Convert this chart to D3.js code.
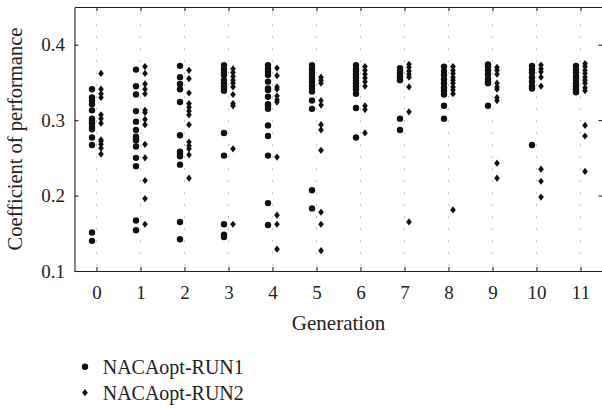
<!DOCTYPE html>
<html>
<head>
<meta charset="utf-8">
<script src="https://cdn.jsdelivr.net/npm/d3@7"></script>
<style>
  body { margin: 0; background: #fff; }
  svg text { font-family: "Liberation Serif", "Times New Roman", "DejaVu Serif", serif; fill: #222; }
</style>
</head>
<body>
<div id="chart"></div>
<script>
const svgWidth = 602;
const svgHeight = 408;

// plot box
const margin = { top: 7, right: -0.5, bottom: 137, left: 74.5 };
const width = svgWidth - margin.left - margin.right;
const height = svgHeight - margin.top - margin.bottom;

// data
const generations = [0, 1, 2, 3, 4, 5, 6, 7, 8, 9, 10, 11];
const yTicks = [0.1, 0.2, 0.3, 0.4];
const seriesNames = ['NACAopt-RUN1', 'NACAopt-RUN2'];

// NACAopt-RUN1, one list per generation
const run1 = [
    [0.341, 0.330, 0.326, 0.321, 0.313, 0.302, 0.299, 0.296, 0.291, 0.288, 0.277, 0.267, 0.151, 0.140],
    [0.367, 0.345, 0.334, 0.312, 0.298, 0.287, 0.278, 0.275, 0.273, 0.265, 0.250, 0.239, 0.167, 0.154],
    [0.372, 0.357, 0.348, 0.341, 0.324, 0.280, 0.258, 0.255, 0.252, 0.241, 0.165, 0.142],
    [0.373, 0.368, 0.364, 0.360, 0.353, 0.349, 0.345, 0.342, 0.339, 0.283, 0.253, 0.162, 0.148, 0.145],
    [0.373, 0.368, 0.364, 0.360, 0.351, 0.342, 0.340, 0.331, 0.321, 0.318, 0.315, 0.293, 0.279, 0.253, 0.190, 0.161],
    [0.373, 0.368, 0.364, 0.360, 0.355, 0.351, 0.346, 0.342, 0.338, 0.326, 0.315, 0.207, 0.183],
    [0.373, 0.368, 0.365, 0.361, 0.357, 0.353, 0.349, 0.345, 0.341, 0.335, 0.316, 0.277],
    [0.369, 0.366, 0.363, 0.360, 0.357, 0.353, 0.302, 0.287],
    [0.371, 0.365, 0.360, 0.354, 0.349, 0.343, 0.339, 0.334, 0.319, 0.302],
    [0.374, 0.371, 0.366, 0.361, 0.355, 0.351, 0.349, 0.319],
    [0.372, 0.367, 0.363, 0.357, 0.351, 0.345, 0.342, 0.267],
    [0.372, 0.367, 0.363, 0.358, 0.354, 0.349, 0.345, 0.341, 0.337]
];

// NACAopt-RUN2, one list per generation
const run2 = [
    [0.362, 0.341, 0.335, 0.330, 0.307, 0.302, 0.296, 0.274, 0.272, 0.268, 0.263, 0.255],
    [0.371, 0.362, 0.348, 0.341, 0.335, 0.313, 0.310, 0.301, 0.294, 0.268, 0.250, 0.220, 0.196, 0.162],
    [0.366, 0.355, 0.336, 0.322, 0.317, 0.312, 0.307, 0.294, 0.271, 0.266, 0.262, 0.254, 0.223],
    [0.368, 0.363, 0.358, 0.353, 0.349, 0.344, 0.334, 0.322, 0.319, 0.262, 0.162],
    [0.369, 0.359, 0.344, 0.341, 0.332, 0.327, 0.324, 0.251, 0.174, 0.162, 0.129],
    [0.357, 0.353, 0.349, 0.326, 0.320, 0.294, 0.287, 0.260, 0.178, 0.162, 0.127],
    [0.371, 0.366, 0.361, 0.356, 0.351, 0.345, 0.319, 0.314, 0.283],
    [0.374, 0.370, 0.365, 0.361, 0.357, 0.344, 0.311, 0.165],
    [0.371, 0.366, 0.362, 0.357, 0.353, 0.349, 0.344, 0.340, 0.335, 0.181],
    [0.370, 0.366, 0.361, 0.349, 0.344, 0.341, 0.330, 0.326, 0.243, 0.223],
    [0.373, 0.368, 0.364, 0.357, 0.345, 0.235, 0.219, 0.198],
    [0.375, 0.371, 0.366, 0.362, 0.357, 0.353, 0.349, 0.343, 0.339, 0.293, 0.279, 0.232]
];

const svg = d3.select('#chart')
    .append('svg')
    .attr('width', svgWidth)
    .attr('height', svgHeight);

const chartGroup = svg.append('g')
    .attr('transform', `translate(${margin.left}, ${margin.top})`);

const xScale = d3.scaleLinear()
    .domain([-0.5, 11.5])
    .range([0, width]);

const yScale = d3.scaleLinear()
    .domain([0.1, 0.45])
    .range([height, 0]);

// dotted vertical guides
chartGroup.selectAll('.guide')
    .data(generations)
    .enter()
    .append('line')
    .attr('class', 'guide')
    .attr('x1', d => xScale(d))
    .attr('x2', d => xScale(d))
    .attr('y1', 5.5)
    .attr('y2', height)
    .attr('stroke', '#8a8a8a')
    .attr('stroke-width', 1)
    .attr('stroke-dasharray', '1,11');

// axes (frame on all four sides, ticks pointing in)
const fontSize = 19;

const xAxis = chartGroup.append('g')
    .attr('transform', `translate(0, ${height})`)
    .call(d3.axisBottom(xScale).tickValues(generations).tickSize(-4).tickSizeOuter(0).tickPadding(15));

chartGroup.append('g')
    .call(d3.axisTop(xScale).tickValues(generations).tickSize(-4).tickSizeOuter(0).tickFormat(''));

const yAxis = chartGroup.append('g')
    .call(d3.axisLeft(yScale).tickValues(yTicks).tickSize(-4).tickSizeOuter(0).tickPadding(9.5)
        .tickFormat(d3.format('.1f')));

chartGroup.append('g')
    .attr('transform', `translate(${width}, 0)`)
    .call(d3.axisRight(yScale).tickValues(yTicks.slice(1)).tickSize(-4).tickSizeOuter(0).tickFormat(''));

chartGroup.selectAll('.domain, .tick line')
    .attr('stroke', '#222')
    .attr('stroke-width', 1.1);

// d3 puts sans-serif on the axis groups, drop it
chartGroup.selectAll('g').attr('font-family', null);
xAxis.selectAll('text').attr('font-size', fontSize);
yAxis.selectAll('text').attr('font-size', fontSize);

// axis titles
chartGroup.append('text')
    .attr('x', width / 2)
    .attr('y', 330 - margin.top)
    .attr('text-anchor', 'middle')
    .attr('font-size', 21)
    .text('Generation');

chartGroup.append('text')
    .attr('transform', 'rotate(-90)')
    .attr('x', 0 - height / 2)
    .attr('y', 22 - margin.left)
    .attr('text-anchor', 'middle')
    .attr('font-size', 20.5)
    .text('Coefficient of performance');

// flatten to points
const points1 = [];
run1.forEach((vals, i) => vals.forEach(v => points1.push({ gen: generations[i], value: v })));
const points2 = [];
run2.forEach((vals, i) => vals.forEach(v => points2.push({ gen: generations[i], value: v })));

const offset = 4.5;
const diamond = 'M0,-3.6L2.8,0L0,3.6L-2.8,0Z';

chartGroup.selectAll('.run1')
    .data(points1)
    .enter()
    .append('circle')
    .attr('class', 'run1')
    .attr('cx', d => xScale(d.gen) - offset)
    .attr('cy', d => yScale(d.value))
    .attr('r', 3.2)
    .attr('fill', '#111');

chartGroup.selectAll('.run2')
    .data(points2)
    .enter()
    .append('path')
    .attr('class', 'run2')
    .attr('d', diamond)
    .attr('transform', d => `translate(${xScale(d.gen) + offset}, ${yScale(d.value)})`)
    .attr('fill', '#111');

// legend
const legend = svg.append('g')
    .attr('transform', 'translate(85, 366.7)');

legend.append('circle')
    .attr('cx', 0)
    .attr('cy', 0)
    .attr('r', 3.2)
    .attr('fill', '#111');

legend.append('path')
    .attr('d', diamond)
    .attr('transform', 'translate(0, 26)')
    .attr('fill', '#111');

legend.selectAll('.legend-text')
    .data(seriesNames)
    .enter()
    .append('text')
    .attr('class', 'legend-text')
    .attr('x', 17.7)
    .attr('y', (d, i) => 7.3 + i * 26)
    .attr('font-size', 20)
    .text(d => d);
</script>
</body>
</html>
